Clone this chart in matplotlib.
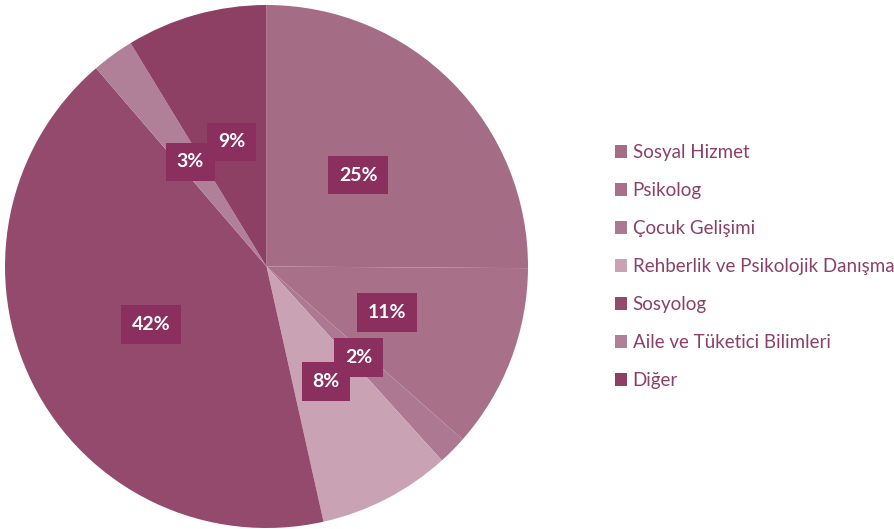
import matplotlib.pyplot as plt
from matplotlib.patches import Patch

# ---- data ----
labels = ["Sosyal Hizmet", "Psikolog", "Çocuk Gelişimi",
          "Rehberlik ve Psikolojik Danışma", "Sosyolog",
          "Aile ve Tüketici Bilimleri", "Diğer"]
values = [25.1, 11.4, 1.8, 8.2, 42.2, 2.6, 8.7]
colors = ["#A56C85", "#A87189", "#AC7892", "#C9A3B4", "#944A6C", "#B07F98", "#8E4064"]

plt.rcParams['font.family'] = ['Lato', 'DejaVu Sans']

fig = plt.figure(figsize=(8.95, 5.29), dpi=100)
ax = fig.add_axes([5 / 895, 1 - 528 / 529, 523 / 895, 523 / 529])

wedges, texts, autotexts = ax.pie(
    values, colors=colors, startangle=90, counterclock=False,
    autopct=lambda p: f"{p:.0f}%", pctdistance=0.495,
    wedgeprops=dict(linewidth=0),
    textprops=dict(color="white", fontsize=14, fontweight="bold"))

for t in autotexts:
    t.set_bbox(dict(boxstyle="square,pad=0.55", facecolor="#8A2F5E",
                    edgecolor="none"))

ax.set_xlim(-1, 1)
ax.set_ylim(-1, 1)
ax.set_aspect("equal")

handles = [Patch(facecolor=c, edgecolor="none") for c in colors]
leg = fig.legend(handles, labels, loc="upper left",
                 bbox_to_anchor=(598 / 895, 1 - 127 / 529),
                 frameon=False, fontsize=13.5, handlelength=0.65,
                 handleheight=0.65, handletextpad=0.3, labelspacing=1.12)
for t in leg.get_texts():
    t.set_color("#8B4068")

fig.savefig("out.png", dpi=100)
